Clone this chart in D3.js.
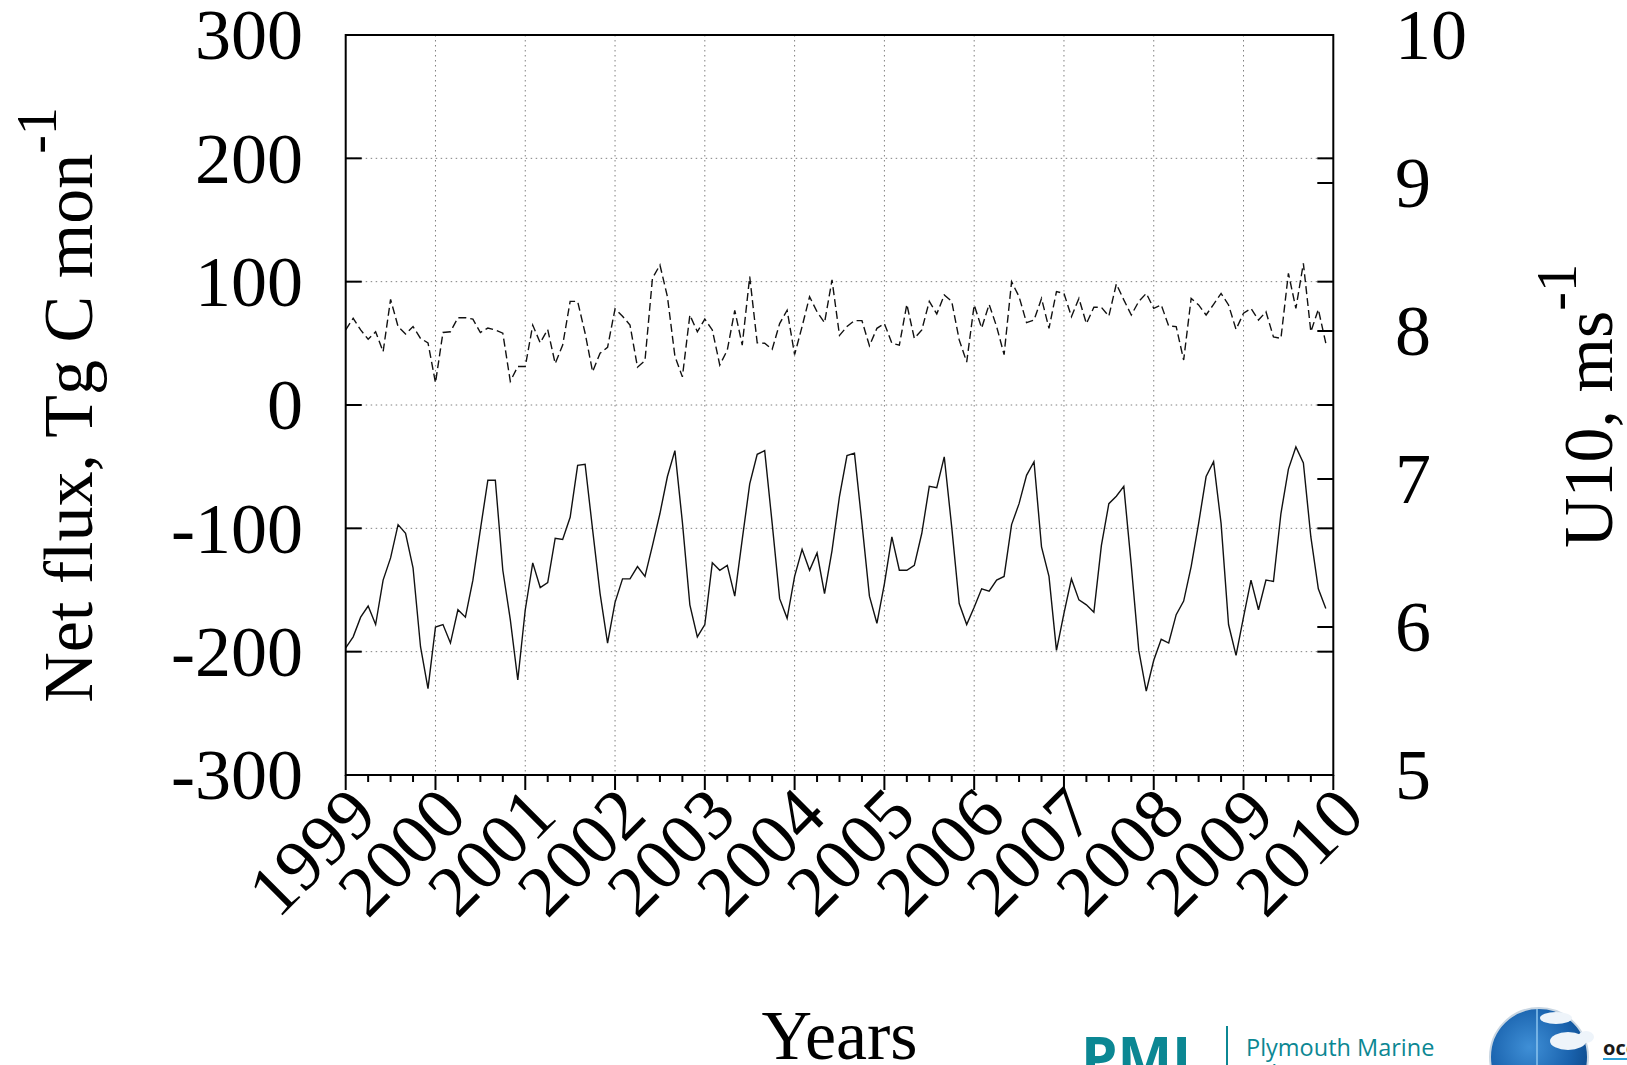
<!DOCTYPE html>
<html>
<head>
<meta charset="utf-8">
<script src="https://cdn.jsdelivr.net/npm/d3@7/dist/d3.min.js"></script>
<style>
    html, body { margin: 0; padding: 0; background: #fff; overflow: hidden; }
    svg { display: block; }
</style>
</head>
<body>
<svg id="chart" width="1627" height="1065"></svg>
<script>
// Monthly net air-sea CO2 flux (Tg C mon-1), Jan 1999 .. Dec 2009
const netFlux = [
    -197, -188, -172, -163, -178, -142, -124, -97, -104, -132, -196, -230,
    -180, -178, -193, -166, -172, -142, -101, -61, -61, -134, -174, -223,
    -166, -128, -148, -144, -108, -109, -91, -49, -48, -101, -153, -193,
    -160, -141, -141, -131, -139, -114, -88, -58, -37, -95, -162, -188,
    -178, -128, -134, -130, -155, -109, -64, -40, -37, -96, -157, -173,
    -139, -117, -134, -120, -153, -118, -74, -41, -39, -96, -155, -177,
    -145, -107, -134, -134, -130, -104, -66, -67, -42, -99, -161, -178,
    -164, -149, -151, -142, -139, -97, -80, -57, -46, -115, -139, -199,
    -169, -141, -158, -162, -168, -114, -80, -74, -66, -130, -199, -232,
    -207, -190, -193, -170, -159, -131, -96, -58, -46, -96, -178, -203,
    -172, -142, -166, -142, -143, -88, -52, -34, -47, -107, -149, -165
];

// Monthly mean wind speed U10 (m s-1), right axis
const windU10 = [
    8.007, 8.086, 8.007, 7.944, 7.995, 7.86, 8.214, 8.03, 7.98, 8.03, 7.95, 7.92,
    7.65, 7.99, 7.995, 8.09, 8.09, 8.08, 7.99, 8.02, 8.007, 7.985, 7.66, 7.76,
    7.76, 8.04, 7.92, 8.01, 7.78, 7.905, 8.2, 8.2, 7.985, 7.725, 7.85, 7.89,
    8.15, 8.1, 8.04, 7.755, 7.8, 8.356, 8.446, 8.232, 7.83, 7.69, 8.108, 7.995,
    8.08, 8.007, 7.77, 7.87, 8.14, 7.905, 8.367, 7.92, 7.917, 7.876, 8.05, 8.14,
    7.84, 8.03, 8.232, 8.13, 8.056, 8.345, 7.97, 8.03, 8.07, 8.07, 7.9, 8.018,
    8.05, 7.917, 7.905, 8.18, 7.95, 8.007, 8.2, 8.115, 8.243, 8.2, 7.94, 7.79,
    8.176, 8.02, 8.18, 8.03, 7.84, 8.333, 8.232, 8.056, 8.074, 8.22, 8.018, 8.266,
    8.254, 8.097, 8.22, 8.05, 8.16, 8.16, 8.1, 8.318, 8.21, 8.108, 8.2, 8.254,
    8.153, 8.176, 8.034, 8.03, 7.804, 8.22, 8.176, 8.108, 8.18, 8.254, 8.176, 8.011,
    8.12, 8.153, 8.074, 8.13, 7.96, 7.95, 8.39, 8.153, 8.457, 7.995, 8.146, 7.917
];

const startYear = 1999;
const yearTicks = d3.range(1999, 2011);
const fluxTicks = [-300, -200, -100, 0, 100, 200, 300];
const windTicks = [5, 6, 7, 8, 9, 10];

const svg = d3.select('#chart');
const serif = '"Liberation Serif", "Times New Roman", serif';
const plot = { left: 345.7, right: 1333.3, top: 35, bottom: 775 };

const x = d3.scaleLinear().domain([1999, 2010]).range([plot.left, plot.right]);
const y = d3.scaleLinear().domain([-300, 300]).range([plot.bottom, plot.top]);
const y2 = d3.scaleLinear().domain([5, 10]).range([plot.bottom, plot.top]);

const monthX = (d, i) => x(startYear + i / 12);

// Grid (dotted)
const grid = svg.append('g')
    .attr('stroke', '#808080')
    .attr('stroke-width', 1)
    .attr('stroke-dasharray', '1.5,3.5');

grid.selectAll('line.v')
    .data(yearTicks.slice(1, -1))
    .join('line')
    .attr('x1', d => x(d)).attr('x2', d => x(d))
    .attr('y1', plot.top).attr('y2', plot.bottom);

grid.selectAll('line.h')
    .data(fluxTicks.slice(1, -1))
    .join('line')
    .attr('x1', plot.left).attr('x2', plot.right)
    .attr('y1', d => y(d)).attr('y2', d => y(d));

// Series
svg.append('path')
    .datum(netFlux)
    .attr('fill', 'none')
    .attr('stroke', '#111')
    .attr('stroke-width', 1.4)
    .attr('stroke-linejoin', 'miter')
    .attr('d', d3.line().x(monthX).y(d => y(d)));

svg.append('path')
    .datum(windU10)
    .attr('fill', 'none')
    .attr('stroke', '#111')
    .attr('stroke-width', 1.4)
    .attr('stroke-dasharray', '8,4')
    .attr('d', d3.line().x(monthX).y(d => y2(d)));

// Border
svg.append('rect')
    .attr('x', plot.left).attr('y', plot.top)
    .attr('width', plot.right - plot.left)
    .attr('height', plot.bottom - plot.top)
    .attr('fill', 'none')
    .attr('stroke', '#000')
    .attr('stroke-width', 2);

// Left ticks (inward) + mirror on the right
const ticks = svg.append('g').attr('stroke', '#000').attr('stroke-width', 2);
ticks.selectAll('line.yl')
    .data(fluxTicks)
    .join('line')
    .attr('x1', plot.left).attr('x2', plot.left + 16)
    .attr('y1', d => y(d)).attr('y2', d => y(d));
ticks.selectAll('line.yr')
    .data(fluxTicks)
    .join('line')
    .attr('x1', plot.right).attr('x2', plot.right - 16)
    .attr('y1', d => y(d)).attr('y2', d => y(d));
ticks.selectAll('line.y2')
    .data(windTicks)
    .join('line')
    .attr('x1', plot.right).attr('x2', plot.right - 16)
    .attr('y1', d => y2(d)).attr('y2', d => y2(d));

// X ticks: yearly major, quarterly minor, outward
const minorTicks = d3.range(0, 44).filter(q => q % 4 !== 0).map(q => startYear + q / 4);
ticks.selectAll('line.xmaj')
    .data(yearTicks)
    .join('line')
    .attr('x1', d => x(d)).attr('x2', d => x(d))
    .attr('y1', plot.bottom).attr('y2', plot.bottom + 15);
ticks.selectAll('line.xmin')
    .data(minorTicks)
    .join('line')
    .attr('x1', d => x(d)).attr('x2', d => x(d))
    .attr('y1', plot.bottom).attr('y2', plot.bottom + 7);

// Tick labels
svg.append('g')
    .selectAll('text')
    .data(fluxTicks)
    .join('text')
    .attr('x', 303)
    .attr('y', d => y(d))
    .attr('dy', '0.34em')
    .attr('text-anchor', 'end')
    .attr('font-family', serif)
    .attr('font-size', 72)
    .text(d => d);

svg.append('g')
    .selectAll('text')
    .data(windTicks)
    .join('text')
    .attr('x', 1395)
    .attr('y', d => y2(d))
    .attr('dy', '0.34em')
    .attr('text-anchor', 'start')
    .attr('font-family', serif)
    .attr('font-size', 72)
    .text(d => d);

svg.append('g')
    .selectAll('text')
    .data(yearTicks)
    .join('text')
    .attr('transform', d => `translate(${x(d) + 34},818) rotate(-45)`)
    .attr('text-anchor', 'end')
    .attr('font-family', serif)
    .attr('font-size', 72)
    .text(d => d);

// Axis titles
const leftTitle = svg.append('text')
    .attr('transform', 'translate(92,405) rotate(-90)')
    .attr('text-anchor', 'middle')
    .attr('font-family', serif)
    .attr('font-size', 70);
leftTitle.append('tspan').text('Net flux, Tg C mon');
leftTitle.append('tspan').attr('dy', -36).attr('font-size', 56).text('-1');

const rightTitle = svg.append('text')
    .attr('transform', 'translate(1612,406) rotate(-90)')
    .attr('text-anchor', 'middle')
    .attr('font-family', serif)
    .attr('font-size', 70);
rightTitle.append('tspan').text('U10, ms');
rightTitle.append('tspan').attr('dy', -36).attr('font-size', 56).text('-1');

svg.append('text')
    .attr('x', (plot.left + plot.right) / 2)
    .attr('y', 1059)
    .attr('text-anchor', 'middle')
    .attr('font-family', serif)
    .attr('font-size', 70)
    .text('Years');

// Footer logos (cropped at the bottom edge)
const teal = '#0b8793';
const logos = svg.append('g');
logos.append('text')
    .attr('x', 1081).attr('y', 1078)
    .attr('font-family', '"Open Sans", sans-serif')
    .attr('font-weight', 700)
    .attr('font-size', 58)
    .attr('fill', teal)
    .text('PML');
logos.append('line')
    .attr('x1', 1227).attr('x2', 1227)
    .attr('y1', 1026).attr('y2', 1065)
    .attr('stroke', teal).attr('stroke-width', 2);
logos.append('text')
    .attr('x', 1246).attr('y', 1056)
    .attr('font-family', '"Open Sans", sans-serif')
    .attr('font-size', 23.5)
    .attr('fill', teal)
    .text('Plymouth Marine');
logos.append('text')
    .attr('x', 1246).attr('y', 1082)
    .attr('font-family', '"Open Sans", sans-serif')
    .attr('font-size', 23.5)
    .attr('fill', teal)
    .text('Laboratory');

const defs = svg.append('defs');
const grad = defs.append('radialGradient').attr('id', 'globe').attr('cx', '40%').attr('cy', '40%').attr('r', '65%');
grad.append('stop').attr('offset', '0%').attr('stop-color', '#3f8fd6');
grad.append('stop').attr('offset', '65%').attr('stop-color', '#1a63ae');
grad.append('stop').attr('offset', '100%').attr('stop-color', '#0d4a8c');

logos.append('circle')
    .attr('cx', 1539).attr('cy', 1057).attr('r', 49)
    .attr('fill', 'url(#globe)')
    .attr('stroke', '#c9d6e2').attr('stroke-width', 2);
logos.append('line')
    .attr('x1', 1537).attr('x2', 1537)
    .attr('y1', 1009).attr('y2', 1065)
    .attr('stroke', '#8cc4ee').attr('stroke-width', 1.5);
const cloud = logos.append('g').attr('fill', '#eef4fa');
cloud.append('ellipse').attr('cx', 1556).attr('cy', 1018).attr('rx', 16).attr('ry', 6);
cloud.append('ellipse').attr('cx', 1568).attr('cy', 1041).attr('rx', 18).attr('ry', 9);
cloud.append('ellipse').attr('cx', 1586).attr('cy', 1037).attr('rx', 8).attr('ry', 6);
logos.append('text')
    .attr('x', 1603).attr('y', 1055)
    .attr('font-family', '"Open Sans", sans-serif')
    .attr('font-weight', 700)
    .attr('font-size', 20)
    .attr('fill', '#1a1a1a')
    .text('ocean');
logos.append('line')
    .attr('x1', 1603).attr('x2', 1627)
    .attr('y1', 1059).attr('y2', 1059)
    .attr('stroke', '#2a9fd6').attr('stroke-width', 2);
</script>
</body>
</html>
